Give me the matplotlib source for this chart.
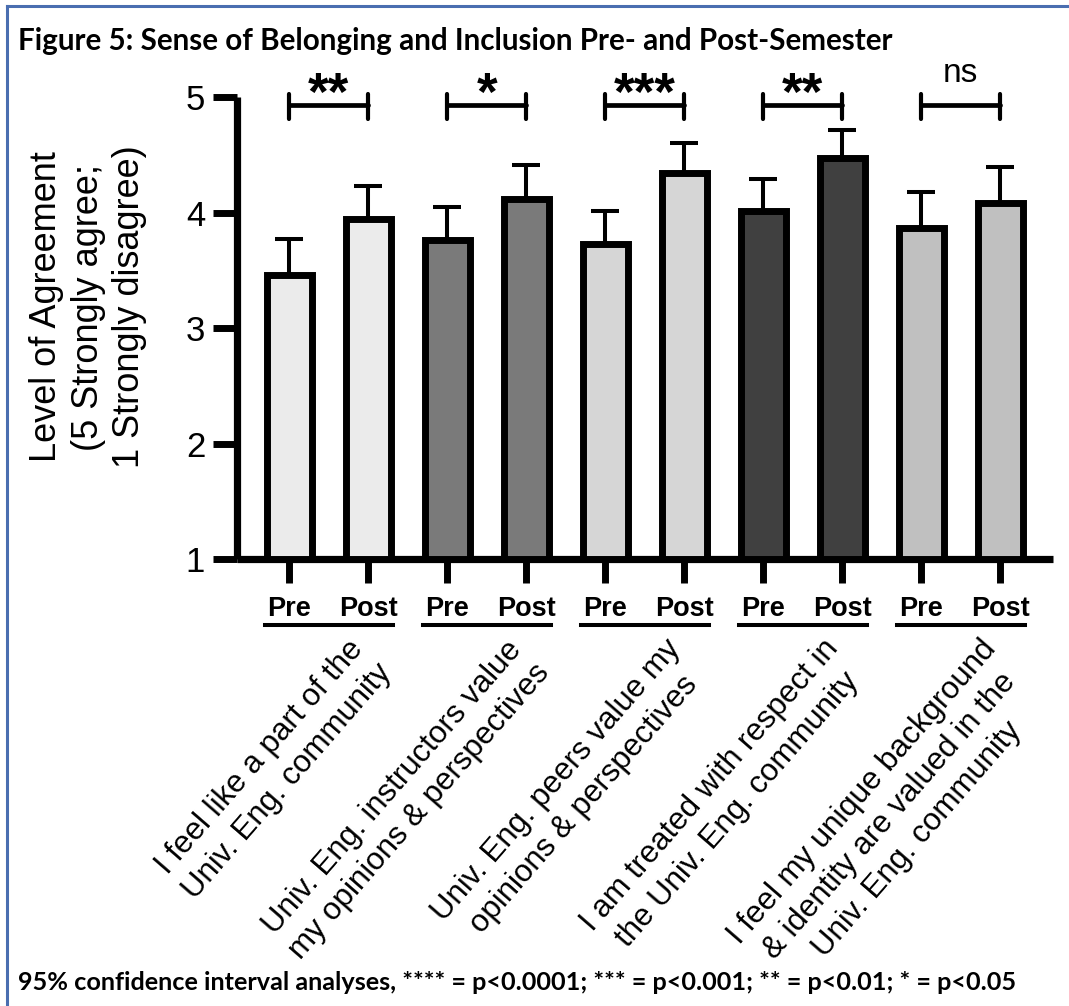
import numpy as np
import matplotlib
matplotlib.use("Agg")
import matplotlib.pyplot as plt
from matplotlib import transforms
from matplotlib.lines import Line2D

# ---------------- data ----------------
categories = [
    "I feel like a part of the\nUniv. Eng. community",
    "Univ. Eng. instructors value\nmy opinions & perspectives",
    "Univ. Eng. peers value my\nopinions & perspectives",
    "I am treated with respect in\nthe Univ. Eng. community",
    "I feel my unique background\n& identity are valued in the\nUniv. Eng. community",
]
timepoints = ["Pre", "Post"]
pre_mean = [3.46, 3.76, 3.73, 4.01, 3.87]
post_mean = [3.94, 4.12, 4.34, 4.47, 4.08]
pre_ci = [0.31, 0.29, 0.28, 0.28, 0.31]
post_ci = [0.29, 0.29, 0.26, 0.24, 0.31]
significance = ["**", "*", "***", "**", "ns"]
yticks = [1, 2, 3, 4, 5]
title = "Figure 5: Sense of Belonging and Inclusion Pre- and Post-Semester"
footnote = "95% confidence interval analyses, **** = p<0.0001; *** = p<0.001; ** = p<0.01; * = p<0.05"
ylabel = "Level of Agreement\n(5 Strongly agree;\n1 Strongly disagree)"

# ---------------- style ----------------
group_colors = ["#ebebeb", "#7a7a7a", "#d6d6d6", "#404040", "#c0c0c0"]
frame_color = "#4a6eb0"
chart_font = "Liberation Sans"
caption_font = "Lato"

W, H = 1069, 1006
fig = plt.figure(figsize=(W / 100, H / 100), dpi=100)
ax = fig.add_axes([236.5 / W, 1 - 559 / H, (1053 - 236.5) / W, (559 - 97) / H])

n = len(categories)
means = np.ravel(np.column_stack([pre_mean, post_mean]))
cis = np.ravel(np.column_stack([pre_ci, post_ci]))
xs = np.arange(2 * n)
colors = np.repeat(group_colors, 2)

ax.bar(xs, means - 1, bottom=1, width=0.57, color=colors, edgecolor="black",
       linewidth=5, zorder=3)
ax.errorbar(xs, means, yerr=[np.zeros_like(cis), cis], fmt="none", ecolor="black",
            elinewidth=2.9, capsize=10.4, capthick=2.9, zorder=2)

ax.set_xlim(-0.67, 2 * n - 1 + 0.67)
ax.set_ylim(1, 5)
for s in ["top", "right"]:
    ax.spines[s].set_visible(False)
for s in ["left", "bottom"]:
    ax.spines[s].set_linewidth(5.2)
    ax.spines[s].set_capstyle("butt")

ax.set_yticks(yticks)
ax.set_yticklabels([str(t) for t in yticks], fontsize=25, family=chart_font)
ax.tick_params(axis="y", direction="out", length=17.5, width=5, pad=5)
ax.set_xticks(xs)
ax.set_xticklabels(timepoints * n, fontsize=19.5, fontweight="bold", family=chart_font)
ax.tick_params(axis="x", direction="out", length=17.3, width=5, pad=9.5)

ax.set_ylabel(ylabel, fontsize=26, family=chart_font, linespacing=1.25,
              ha="center", va="center", multialignment="center")
ax.yaxis.set_label_coords((88 - 236.5) / (1053 - 236.5), (559 - 307) / (559 - 97))

blend = transforms.blended_transform_factory(ax.transData, ax.transAxes)
for g in range(n):
    x0, x1 = 2 * g, 2 * g + 1
    xc = (x0 + x1) / 2
    # underline below Pre / Post
    ax.add_line(Line2D([x0 - 0.31, x1 + 0.31], [-0.1429, -0.1429], transform=blend,
                       color="black", linewidth=2.9, clip_on=False))
    # rotated category label
    ax.text(xc + 0.24, -0.162, categories[g], transform=blend, rotation=49,
            rotation_mode="anchor", ha="right", va="top", multialignment="center",
            fontsize=22.5, family=chart_font, linespacing=1.28)
    # significance bracket
    ax.plot([x0, x1], [4.93, 4.93], color="black", linewidth=3.4,
            solid_capstyle="round", clip_on=False, zorder=4)
    for xx in (x0, x1):
        ax.plot([xx, xx], [4.81, 5.03], color="black", linewidth=3.0,
                solid_capstyle="round", clip_on=False, zorder=4)
    if significance[g] == "ns":
        ax.text(xc, 5.127, significance[g], ha="center", va="baseline",
                fontsize=24, family=chart_font)
    else:
        ax.text(xc, 4.885, significance[g], ha="center", va="baseline",
                fontsize=38, fontweight="bold", family=chart_font)

fig.text(18 / W, 1 - 50 / H, title, fontsize=21.3, fontweight="bold",
         family=caption_font, ha="left", va="baseline")
fig.text(18 / W, 1 - 990 / H, footnote, fontsize=18.2, fontweight="bold",
         family=caption_font, ha="left", va="baseline")

# frame (top and left edges)
fig.add_artist(Line2D([7 / W, 1], [1 - 6 / H, 1 - 6 / H], transform=fig.transFigure,
                      color=frame_color, linewidth=2.2))
fig.add_artist(Line2D([7 / W, 7 / W], [0, 1 - 6 / H], transform=fig.transFigure,
                      color=frame_color, linewidth=2.2))

fig.savefig("out.png", dpi=100)
